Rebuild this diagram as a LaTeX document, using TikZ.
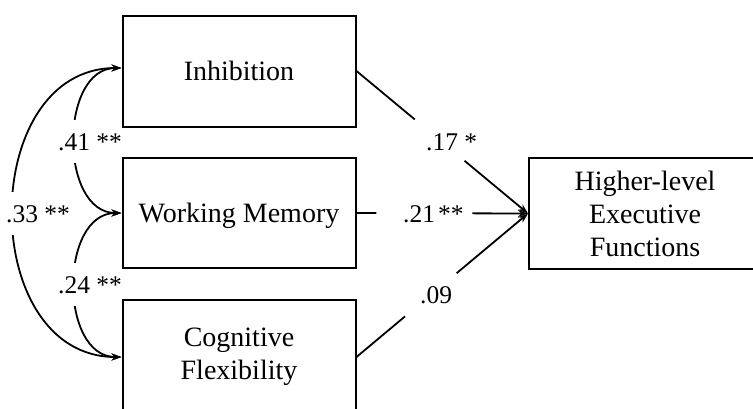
\documentclass[tikz,border=0pt]{standalone}
\usepackage{fontspec}
\setmainfont{Liberation Serif}
\usetikzlibrary{arrows.meta,calc}
\pgfdeclarelayer{background}
\pgfsetlayers{background,main}
\begin{document}
\begin{tikzpicture}[x=1pt,y=-1pt,
  box/.style={draw, line width=2pt, inner sep=0pt, font=\fontsize{28}{33}\selectfont, align=center},
  conn/.style={line width=1.8pt},
  tip/.style={-{Stealth[length=10pt,width=7pt]}},
  bitip/.style={{Stealth[length=10pt,width=7pt]}-{Stealth[length=10pt,width=7pt]}},
  coef/.style={font=\fontsize{25.5}{30}\selectfont, inner sep=0pt, anchor=base west},
  arclab/.style={coef, fill=white, inner xsep=1pt, inner ysep=13pt}]
\useasboundingbox (0,0) rectangle (753,408);
\clip (0,0) rectangle (753,408);
% boxes
\node[box, minimum width=233pt, minimum height=111pt, text depth=0pt] (inh) at (239,71) {Inhibition};
\node[box, minimum width=233pt, minimum height=110pt, text depth=0pt] (wm) at (239,213) {Working Memory};
\node[box, minimum width=233pt, minimum height=114pt] (cf) at (239,357) {Cognitive\\Flexibility};
\node[box, minimum width=232pt, minimum height=111pt] (hef) at (645,213.5) {Higher-level\\Executive\\Functions};
\begin{pgfonlayer}{background}
% correlations
\draw[conn, bitip] ([yshift=3pt]inh.west) .. controls (-23,68) and (-23,357) .. (cf.west);
\draw[conn, bitip] ([yshift=3pt]inh.west) .. controls (59,68) and (59,213) .. (wm.west);
\draw[conn, bitip] (wm.west) .. controls (59,213) and (59,357) .. (cf.west);
\node[arclab] (l41) at (57,150) {.41 **};
\node[arclab] (l33) at (5,222) {.33 **};
\node[arclab] (l24) at (57,293) {.24 **};
\end{pgfonlayer}
% paths
\draw[conn] (inh.east) -- ($(inh.east)!0.34!(hef.west)$);
\draw[conn, tip] ($(inh.east)!0.63!(hef.west)$) -- (hef.west);
\draw[conn] (wm.east) -- ($(wm.east)!0.116!(hef.west)$);
\draw[conn, tip] ($(wm.east)!0.676!(hef.west)$) -- (hef.west);
\draw[conn] (cf.east) -- ($(cf.east)!0.283!(hef.west)$);
\draw[conn, tip] ($(cf.east)!0.584!(hef.west)$) -- (hef.west);
\node[coef] (l17) at (426,150) {.17 *};
\node[coef] (l21) at (403,222) {.21\hspace{3pt}**};
\node[coef] (l09) at (420,303) {.09};
\end{tikzpicture}
\end{document}
